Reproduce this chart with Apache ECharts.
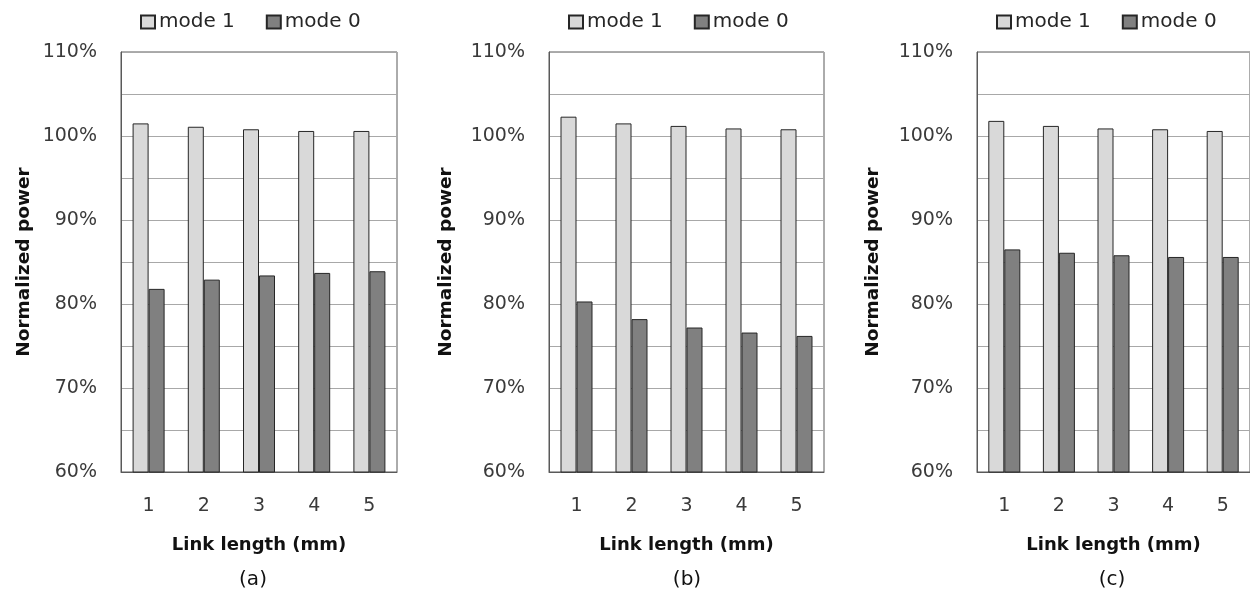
<!DOCTYPE html>
<html>
<head>
<meta charset="utf-8">
<script src="https://cdn.jsdelivr.net/npm/echarts@6/dist/echarts.min.js"></script>
<style>
html,body{margin:0;padding:0;background:#fff;}
#chart{width:1250px;height:593px;}
</style>
</head>
<body>
<div id="chart"></div>
<script>
const categories = ['1', '2', '3', '4', '5'];
const seriesNames = ['mode 1', 'mode 0'];
const mode1A = [101.5, 101.1, 100.8, 100.6, 100.6];
const mode0A = [81.8, 82.9, 83.4, 83.7, 83.9];
const mode1B = [102.3, 101.5, 101.2, 100.9, 100.8];
const mode0B = [80.3, 78.2, 77.2, 76.6, 76.2];
const mode1C = [101.8, 101.2, 100.9, 100.8, 100.6];
const mode0C = [86.5, 86.1, 85.8, 85.6, 85.6];
const panelLabels = ['(a)', '(b)', '(c)'];
const xTitle = 'Link length (mm)';
const yTitle = 'Normalized power';
const yMin = 60, yMax = 110, yStep = 5;

const panels = [
  { m1: mode1A, m0: mode0A, left: 121, width: 276, legendLeft: 140, nameGap: 87, labelX: 253 },
  { m1: mode1B, m0: mode0B, left: 549, width: 275, legendLeft: 568, nameGap: 93, labelX: 687 },
  { m1: mode1C, m0: mode0C, left: 977, width: 277, legendLeft: 996, nameGap: 94, labelX: 1112 }
];

const FONT = 'DejaVu Sans';
const grids = [], xAxes = [], yAxes = [], series = [], legends = [], graphics = [];

panels.forEach((p, i) => {
  grids.push({
    left: p.left, top: 52, width: p.width, height: 420,
    show: true, borderColor: '#595959', borderWidth: 1, backgroundColor: 'transparent'
  });
  xAxes.push({
    type: 'category', gridIndex: i, data: categories,
    axisLine: { show: true, lineStyle: { color: '#595959', width: 1 } },
    axisTick: { show: false },
    axisLabel: { margin: 25, fontFamily: FONT, fontSize: 19, color: '#3a3a3a' },
    name: xTitle, nameLocation: 'middle', nameGap: 64,
    nameTextStyle: { fontFamily: FONT, fontSize: 18, fontWeight: 'bold', color: '#111' }
  });
  yAxes.push({
    type: 'value', gridIndex: i, min: yMin, max: yMax, interval: yStep,
    axisLine: { show: true, lineStyle: { color: '#595959', width: 1 } },
    axisTick: { show: false },
    splitLine: { show: true, lineStyle: { color: '#a8a8a8', width: 1 } },
    axisLabel: {
      margin: 24, fontFamily: FONT, fontSize: 19, color: '#3a3a3a',
      formatter: v => (v % 10 === 0 ? v + '%' : '')
    },
    name: yTitle, nameLocation: 'middle', nameGap: p.nameGap, nameRotate: 90,
    nameTextStyle: { fontFamily: FONT, fontSize: 18.5, fontWeight: 'bold', color: '#111' }
  });
  series.push({
    name: seriesNames[0], type: 'bar', xAxisIndex: i, yAxisIndex: i, data: p.m1,
    barWidth: 16, barGap: '0%',
    itemStyle: { color: '#d9d9d9', borderColor: '#262626', borderWidth: 1 }
  });
  series.push({
    name: seriesNames[1], type: 'bar', xAxisIndex: i, yAxisIndex: i, data: p.m0,
    barWidth: 16, barGap: '0%',
    itemStyle: { color: '#808080', borderColor: '#262626', borderWidth: 1 }
  });
  legends.push({
    data: seriesNames, left: p.legendLeft, top: 12, padding: 0, icon: 'rect',
    itemWidth: 14, itemHeight: 13, itemGap: 31, selectedMode: false,
    textStyle: { fontFamily: FONT, fontSize: 20, color: '#262626', padding: [0, 0, 0, -1] }
  });
  graphics.push({
    type: 'text', x: p.labelX, y: 580,
    style: { text: panelLabels[i], font: '20px "' + FONT + '"', fill: '#111', textAlign: 'center', textVerticalAlign: 'middle' }
  });
});

const chart = echarts.init(document.getElementById('chart'));
chart.setOption({
  animation: false,
  backgroundColor: '#ffffff',
  grid: grids, xAxis: xAxes, yAxis: yAxes, series: series,
  legend: legends, graphic: graphics
});
</script>
</body>
</html>
